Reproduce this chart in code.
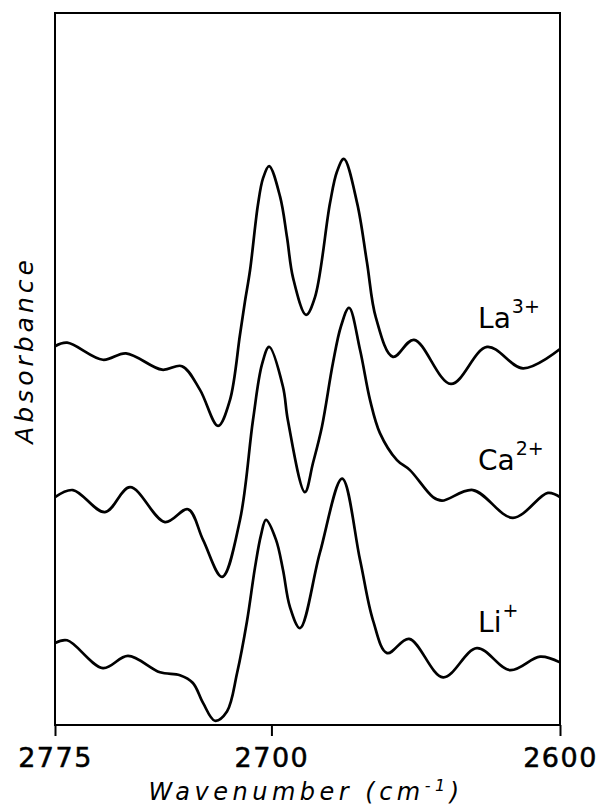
<!DOCTYPE html>
<html lang="en">
    <head>
        <meta charset="UTF-8" />
        <title>Absorbance spectra</title>
        <style>
            html,
            body {
                margin: 0;
                background: #fff;
            }

            svg text {
                font-family: "DejaVu Sans", sans-serif;
                fill: #000;
            }

            .frame {
                fill: none;
                stroke: #000;
                stroke-width: 2px;
            }

            .spectrum {
                fill: none;
                stroke: #000;
                stroke-width: 2.7px;
                stroke-linejoin: round;
            }
        </style>
    </head>
    <body>
        <div id="chart"></div>
        <script src="https://d3js.org/d3.v7.min.js"></script>
        <script>
            // wavenumber (cm-1), absorbance (arbitrary units, curves offset)
            const la3 = [
                [2775, 53.2], [2770.8, 53.7], [2758.4, 51.3], [2750.4, 52.2],
                [2737.9, 49.9], [2731.0, 50.4], [2724.8, 47.1], [2718.5, 42.0],
                [2714.4, 45.6], [2710.9, 54.8], [2709.2, 59.4], [2707.4, 63.9],
                [2704.7, 73.0], [2702.9, 76.8], [2700.8, 78.5], [2697.0, 74.2],
                [2694.6, 68.5], [2692.5, 62.8], [2688.0, 57.6], [2684.9, 60.1],
                [2679.7, 73.3], [2677.3, 77.7], [2674.9, 79.5], [2670.3, 73.3],
                [2666.9, 65.0], [2663.8, 57.2], [2657.9, 51.7], [2650.6, 54.1],
                [2637.8, 47.9], [2625.3, 53.1], [2612.8, 50.1], [2600, 52.8]
            ];

            const ca2 = [
                [2775, 32.0], [2768.8, 33.0], [2757.7, 29.9], [2749.0, 33.4],
                [2736.9, 28.5], [2728.9, 30.3], [2723.7, 26.0], [2717.1, 20.8],
                [2710.9, 28.8], [2706.4, 42.8], [2703.3, 50.6], [2700.8, 53.1],
                [2696.0, 47.5], [2694.3, 42.8], [2688.4, 32.7], [2685.6, 36.8],
                [2682.5, 41.9], [2678.7, 50.8], [2675.9, 56.0], [2673.1, 58.6],
                [2669.3, 52.7], [2665.8, 45.6], [2662.4, 41.0], [2656.5, 37.2],
                [2652.0, 35.8], [2644.0, 32.0], [2640.9, 31.5], [2630.2, 33.0],
                [2616.3, 29.1], [2604.2, 32.6], [2600, 32.0]
            ];

            const li1 = [
                [2775, 11.5], [2770.8, 11.9], [2758.4, 8.0], [2749.7, 9.7],
                [2738.6, 7.4], [2731.7, 7.0], [2727.2, 5.9], [2723.7, 3.1],
                [2719.6, 0.6], [2715.4, 1.9], [2711.9, 7.3], [2708.5, 14.5],
                [2705.7, 22.1], [2703.6, 26.7], [2701.9, 28.8], [2698.4, 26.0],
                [2696.0, 21.8], [2693.6, 16.6], [2690.1, 13.6], [2683.2, 24.2],
                [2675.5, 34.6], [2669.3, 23.2], [2664.8, 14.7], [2659.9, 10.1],
                [2652.3, 12.1], [2640.5, 6.7], [2628.8, 10.8], [2617.3, 7.7],
                [2606.9, 9.6], [2600, 8.8]
            ];

            const ions = [
                { name: "La", charge: "3+" },
                { name: "Ca", charge: "2+" },
                { name: "Li", charge: "+" }
            ];
            const xTicks = [2775, 2700, 2600];

            const width = 601;
            const height = 809;
            const margin = { top: 13, right: 41, bottom: 84, left: 55 };

            const svg = d3
                .select("#chart")
                .append("svg")
                .attr("width", width)
                .attr("height", height);

            const x = d3
                .scaleLinear()
                .domain([2775, 2600])
                .range([margin.left, width - margin.right]);

            const y = d3
                .scaleLinear()
                .domain([0, 100])
                .range([height - margin.bottom, margin.top]);

            const line = d3
                .line()
                .x(d => x(d[0]))
                .y(d => y(d[1]))
                .curve(d3.curveCatmullRom.alpha(0.5));

            svg.selectAll(".spectrum")
                .data([la3, ca2, li1])
                .enter()
                .append("path")
                .attr("class", "spectrum")
                .attr("d", line);

            svg.append("rect")
                .attr("class", "frame")
                .attr("x", margin.left)
                .attr("y", margin.top)
                .attr("width", width - margin.left - margin.right)
                .attr("height", height - margin.top - margin.bottom);

            const xAxis = svg
                .append("g")
                .attr("transform", `translate(0,${height - margin.bottom})`)
                .call(
                    d3
                        .axisBottom(x)
                        .tickValues(xTicks)
                        .tickFormat(d3.format("d"))
                        .tickSize(11)
                        .tickSizeOuter(0)
                        .tickPadding(12)
                );
            xAxis.select(".domain").remove();
            xAxis.selectAll(".tick line").attr("stroke", "#000").attr("stroke-width", 2);
            xAxis
                .selectAll(".tick text")
                .attr("fill", "#000")
                .attr("stroke", "#000")
                .attr("stroke-width", 0.5)
                .style("font-family", "'DejaVu Sans', sans-serif")
                .style("font-size", "27px")
                .style("letter-spacing", "1.5px");

            // ion labels, sitting just above each curve's right-hand tail
            const labelY = [55.8, 35.8, 13.1];
            const labels = svg
                .selectAll(".ion")
                .data(ions)
                .enter()
                .append("text")
                .attr("class", "ion")
                .attr("x", x(2628.4))
                .attr("y", (d, i) => y(labelY[i]))
                .style("font-size", "28px");
            labels.append("tspan").text(d => d.name);
            labels
                .append("tspan")
                .attr("dy", -15)
                .attr("dx", 1)
                .style("font-size", "19px")
                .text(d => d.charge);

            svg.append("text")
                .attr("transform", "translate(33,350) rotate(-90)")
                .attr("text-anchor", "middle")
                .style("font-size", "25px")
                .style("font-style", "italic")
                .style("letter-spacing", "4px")
                .text("Absorbance");

            const title = svg
                .append("text")
                .attr("x", 306)
                .attr("y", 800)
                .attr("text-anchor", "middle")
                .style("font-size", "24px")
                .style("font-style", "italic")
                .style("letter-spacing", "4.5px");
            title.append("tspan").text("Wavenumber (cm");
            title
                .append("tspan")
                .attr("dy", -9)
                .style("font-size", "16px")
                .text("-1");
            title.append("tspan").attr("dy", 9).text(")");
        </script>
    </body>
</html>
